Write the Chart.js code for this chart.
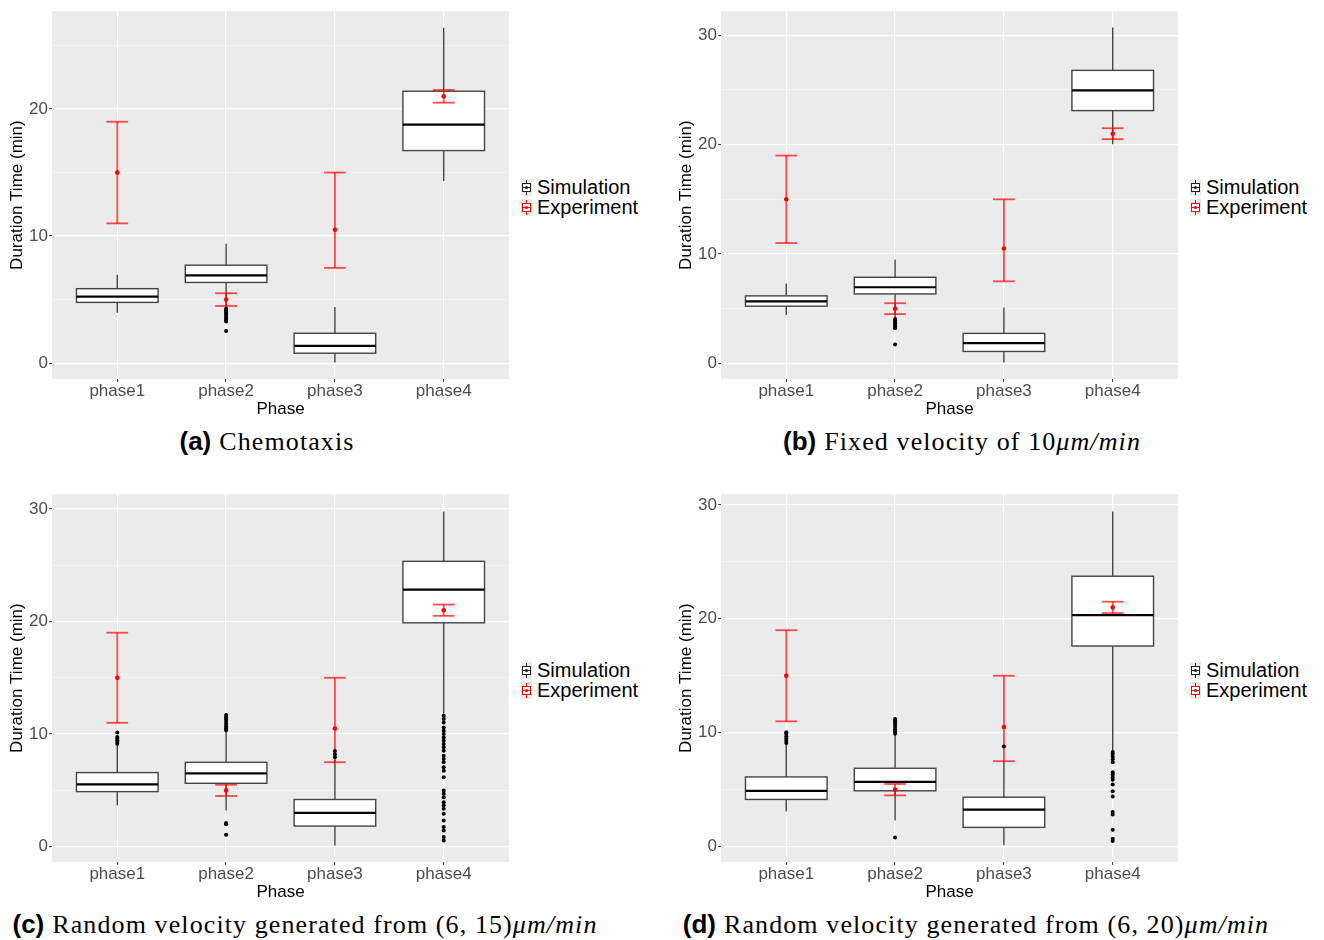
<!DOCTYPE html>
<html>
<head>
<meta charset="utf-8">
<script src="https://cdn.jsdelivr.net/npm/chart.js@4.4.1/dist/chart.umd.min.js"></script>
<style>
  body { margin: 0; background: #fff; width: 1324px; height: 940px; position: relative; overflow: hidden;
         font-family: "Liberation Sans", Arial, sans-serif; }
  .panel { position: absolute; width: 515px; height: 420px; }
  .legend { position: absolute; font-size: 20px; color: #000; }
  .legend div { display: flex; align-items: center; height: 20px; }
  .legend svg { margin-right: 5px; }
  .caption { position: absolute; transform: translateX(-50%); white-space: nowrap; line-height: 30px;
             font-family: "Liberation Serif", serif; font-size: 26px; letter-spacing: 1.1px; }
  .caption b { font-family: "Liberation Sans", sans-serif; font-size: 26px; letter-spacing: 0; margin-right: 8px; }
</style>
</head>
<body>
<div class="panel" style="left:0;top:0"><canvas id="chartA"></canvas></div>
<div class="panel" style="left:669px;top:0"><canvas id="chartB"></canvas></div>
<div class="panel" style="left:0;top:483px"><canvas id="chartC"></canvas></div>
<div class="panel" style="left:669px;top:483px"><canvas id="chartD"></canvas></div>

<div class="legend" style="left:521px;top:177px" id="legA"></div>
<div class="legend" style="left:1190px;top:177px" id="legB"></div>
<div class="legend" style="left:521px;top:660px" id="legC"></div>
<div class="legend" style="left:1190px;top:660px" id="legD"></div>

<div class="caption" style="left:267px;top:426px"><b>(a)</b>Chemotaxis</div>
<div class="caption" style="left:962px;top:426px"><b>(b)</b>Fixed velocity of 10<i>μm/min</i></div>
<div class="caption" style="left:305px;top:909px"><b>(c)</b>Random velocity generated from (6, 15)<i>μm/min</i></div>
<div class="caption" style="left:976px;top:909px"><b>(d)</b>Random velocity generated from (6, 20)<i>μm/min</i></div>

<script>
const phases = ["phase1", "phase2", "phase3", "phase4"];
const yTicks = [0, 5, 10, 15, 20, 25, 30];

// experiment: mean with error bar (same in every panel)
const expMean = [15, 5, 10.5, 21];
const expLow = [11, 4.5, 7.5, 20.5];
const expHigh = [19, 5.5, 15, 21.5];

// (a) chemotaxis
const aLow = [3.97, 4.35, 0.05, 14.33];
const aQ1 = [4.78, 6.35, 0.78, 16.73];
const aMed = [5.23, 6.9, 1.36, 18.77];
const aQ3 = [5.86, 7.71, 2.35, 21.4];
const aHigh = [6.96, 9.39, 4.42, 26.4];
const aOut = [[], [4.28, 4.15, 4.02, 3.9, 3.78, 3.65, 3.52, 3.4, 3.28, 2.53], [], []];

// (b) fixed velocity
const bLow = [4.43, 4.2, 0.09, 20.04];
const bQ1 = [5.23, 6.35, 1.09, 23.11];
const bMed = [5.66, 6.96, 1.85, 24.96];
const bQ3 = [6.17, 7.87, 2.74, 26.79];
const bHigh = [7.3, 9.49, 5.11, 30.7];
const bOut = [[], [4.05, 3.92, 3.78, 3.65, 3.52, 3.38, 3.22, 1.73], [], []];

// (c) random velocity (6,15)
const cLow = [3.65, 3.21, 0.1, 11.8];
const cQ1 = [4.89, 5.63, 1.83, 19.88];
const cMed = [5.54, 6.51, 3.01, 22.83];
const cQ3 = [6.58, 7.49, 4.19, 25.34];
const cHigh = [9.05, 10.25, 7.7, 29.76];
const cOut = [
  [9.15, 9.3, 9.45, 9.6, 9.75, 10.15],
  [10.35, 10.5, 10.7, 10.9, 11.1, 11.3, 11.5, 11.7, 2.1, 2.0, 1.05],
  [7.95, 8.2, 8.5],
  [11.62, 11.33, 11.03, 10.59, 10.29, 10.0, 9.7, 9.41, 9.11, 8.82, 8.52, 8.08, 7.79, 7.49, 7.05,
   6.75, 6.16, 4.98, 4.69, 4.39, 3.95, 3.65, 3.36, 2.92, 2.33, 1.74, 1.44, 0.85, 0.56]
];

// (d) random velocity (6,20)
const dLow = [3.09, 2.3, 0.11, 8.45];
const dQ1 = [4.14, 4.9, 1.69, 17.61];
const dMed = [4.9, 5.69, 3.24, 20.33];
const dQ3 = [6.12, 6.88, 4.34, 23.74];
const dHigh = [8.95, 9.8, 7.5, 29.42];
const dOut = [
  [9.1, 9.3, 9.5, 9.7, 9.9, 10.05],
  [9.9, 10.1, 10.3, 10.5, 10.7, 10.9, 11.05, 11.2, 0.79],
  [8.78],
  [8.3, 8.14, 7.9, 7.67, 7.4, 6.53, 6.33, 6.09, 5.86, 5.45, 4.87, 4.4, 3.03, 2.83, 1.49, 0.7, 0.49]
];

const boxWidth = 0.75;
const capWidth = 0.2;

Chart.defaults.font.family = '"Liberation Sans", Arial, sans-serif';
Chart.defaults.animation = false;

function boxLayer(low, q1, med, q3, high) {
  return {
    id: "boxLayer",
    beforeDraw(chart) {
      const { ctx, chartArea: a } = chart;
      ctx.save();
      ctx.fillStyle = "#ebebeb";
      ctx.fillRect(a.left, a.top, a.width, a.height);
      ctx.restore();
    },
    beforeDatasetsDraw(chart) {
      const { ctx, scales: { x, y } } = chart;
      const seg = (x1, y1, x2, y2) => {
        ctx.beginPath(); ctx.moveTo(x1, y1); ctx.lineTo(x2, y2); ctx.stroke();
      };
      ctx.save();
      phases.forEach((p, i) => {
        const cx = x.getPixelForValue(i + 1);
        const l = x.getPixelForValue(i + 1 - boxWidth / 2);
        const r = x.getPixelForValue(i + 1 + boxWidth / 2);
        const top = y.getPixelForValue(q3[i]);
        const bot = y.getPixelForValue(q1[i]);
        ctx.strokeStyle = "#444";
        ctx.lineWidth = 1.4;
        seg(cx, y.getPixelForValue(high[i]), cx, top);
        seg(cx, bot, cx, y.getPixelForValue(low[i]));
        ctx.fillStyle = "#fff";
        ctx.fillRect(l, top, r - l, bot - top);
        ctx.strokeRect(l, top, r - l, bot - top);
        const m = y.getPixelForValue(med[i]);
        ctx.strokeStyle = "#000";
        ctx.lineWidth = 2.2;
        seg(l, m, r, m);
      });
      // experiment error bars
      ctx.strokeStyle = "rgba(255,0,0,0.7)";
      ctx.lineWidth = 1.8;
      phases.forEach((p, i) => {
        const cx = x.getPixelForValue(i + 1);
        const cl = x.getPixelForValue(i + 1 - capWidth / 2);
        const cr = x.getPixelForValue(i + 1 + capWidth / 2);
        const hi = y.getPixelForValue(expHigh[i]);
        const lo = y.getPixelForValue(expLow[i]);
        seg(cx, hi, cx, lo);
        seg(cl, hi, cr, hi);
        seg(cl, lo, cr, lo);
      });
      ctx.restore();
    }
  };
}

function makeChart(id, low, q1, med, q3, high, out, yMin, yMax) {
  const outPts = out.flatMap((vals, i) => vals.map(v => ({ x: i + 1, y: v })));
  const meanPts = expMean.map((v, i) => ({ x: i + 1, y: v }));
  const major = c => c.tick && c.tick.value % 10 === 0;
  return new Chart(document.getElementById(id), {
    type: "scatter",
    data: {
      datasets: [
        { label: "Simulation", data: outPts, pointRadius: 2, pointBorderWidth: 0,
          pointBackgroundColor: "#000" },
        { label: "Experiment", data: meanPts, pointRadius: 2.3, pointBorderWidth: 0,
          pointBackgroundColor: "#ff0000" }
      ]
    },
    options: {
      responsive: true,
      maintainAspectRatio: false,
      layout: { padding: { top: 10, right: 6, left: 0, bottom: 0 } },
      plugins: { legend: { display: false }, tooltip: { enabled: false } },
      scales: {
        x: {
          type: "linear", min: 0.4, max: 4.6,
          afterBuildTicks: s => { s.ticks = phases.map((p, i) => ({ value: i + 1 })); },
          afterFit: s => { s.height = 41; },
          border: { display: false },
          grid: { color: "#fff", lineWidth: 1.2, tickColor: "#333", tickLength: 3, tickWidth: 1 },
          ticks: { callback: v => phases[v - 1], color: "#4d4d4d", font: { size: 17 },
                   padding: -1, autoSkip: false, maxRotation: 0 },
          title: { display: true, text: "Phase", color: "#000", font: { size: 17 },
                   padding: { top: 0, bottom: 0 } }
        },
        y: {
          type: "linear", min: yMin, max: yMax,
          afterBuildTicks: s => { s.ticks = yTicks.filter(v => v >= s.min && v <= s.max).map(v => ({ value: v })); },
          afterFit: s => { s.width = 52; },
          border: { display: false },
          grid: {
            color: c => major(c) ? "#fff" : "rgba(255,255,255,0.75)",
            lineWidth: c => major(c) ? 1.2 : 0.6,
            tickColor: c => major(c) ? "#333" : "rgba(0,0,0,0)",
            tickLength: 3, tickWidth: 1
          },
          ticks: { callback: v => v % 10 === 0 ? String(v) : "", color: "#4d4d4d",
                   font: { size: 17 }, padding: 1 },
          title: { display: true, text: "Duration Time (min)", color: "#000", font: { size: 17 },
                   padding: { top: 7, bottom: 0 } }
        }
      }
    },
    plugins: [boxLayer(low, q1, med, q3, high)]
  });
}

makeChart("chartA", aLow, aQ1, aMed, aQ3, aHigh, aOut, -1.25, 27.7);
makeChart("chartB", bLow, bQ1, bMed, bQ3, bHigh, bOut, -1.43, 32.2);
makeChart("chartC", cLow, cQ1, cMed, cQ3, cHigh, cOut, -1.36, 31.3);
makeChart("chartD", dLow, dQ1, dMed, dQ3, dHigh, dOut, -1.35, 30.94);

// legends
function keyIcon(col) {
  return `<svg width="11" height="17"><rect width="11" height="17" fill="#ebebeb"/>` +
    `<line x1="5.5" y1="1" x2="5.5" y2="16" stroke="${col}"/>` +
    `<rect x="1.5" y="4.5" width="8" height="8" fill="#fff" stroke="${col}"/>` +
    `<line x1="1.5" y1="8.5" x2="9.5" y2="8.5" stroke="${col}"/>` +
    `<circle cx="5.5" cy="8.5" r="1.6" fill="${col}"/></svg>`;
}
const legendItems = [["Simulation", "#222"], ["Experiment", "#ff0000"]];
["legA", "legB", "legC", "legD"].forEach(id => {
  document.getElementById(id).innerHTML = legendItems
    .map(([name, col]) => `<div>${keyIcon(col)}<span>${name}</span></div>`).join("");
});
</script>
</body>
</html>
